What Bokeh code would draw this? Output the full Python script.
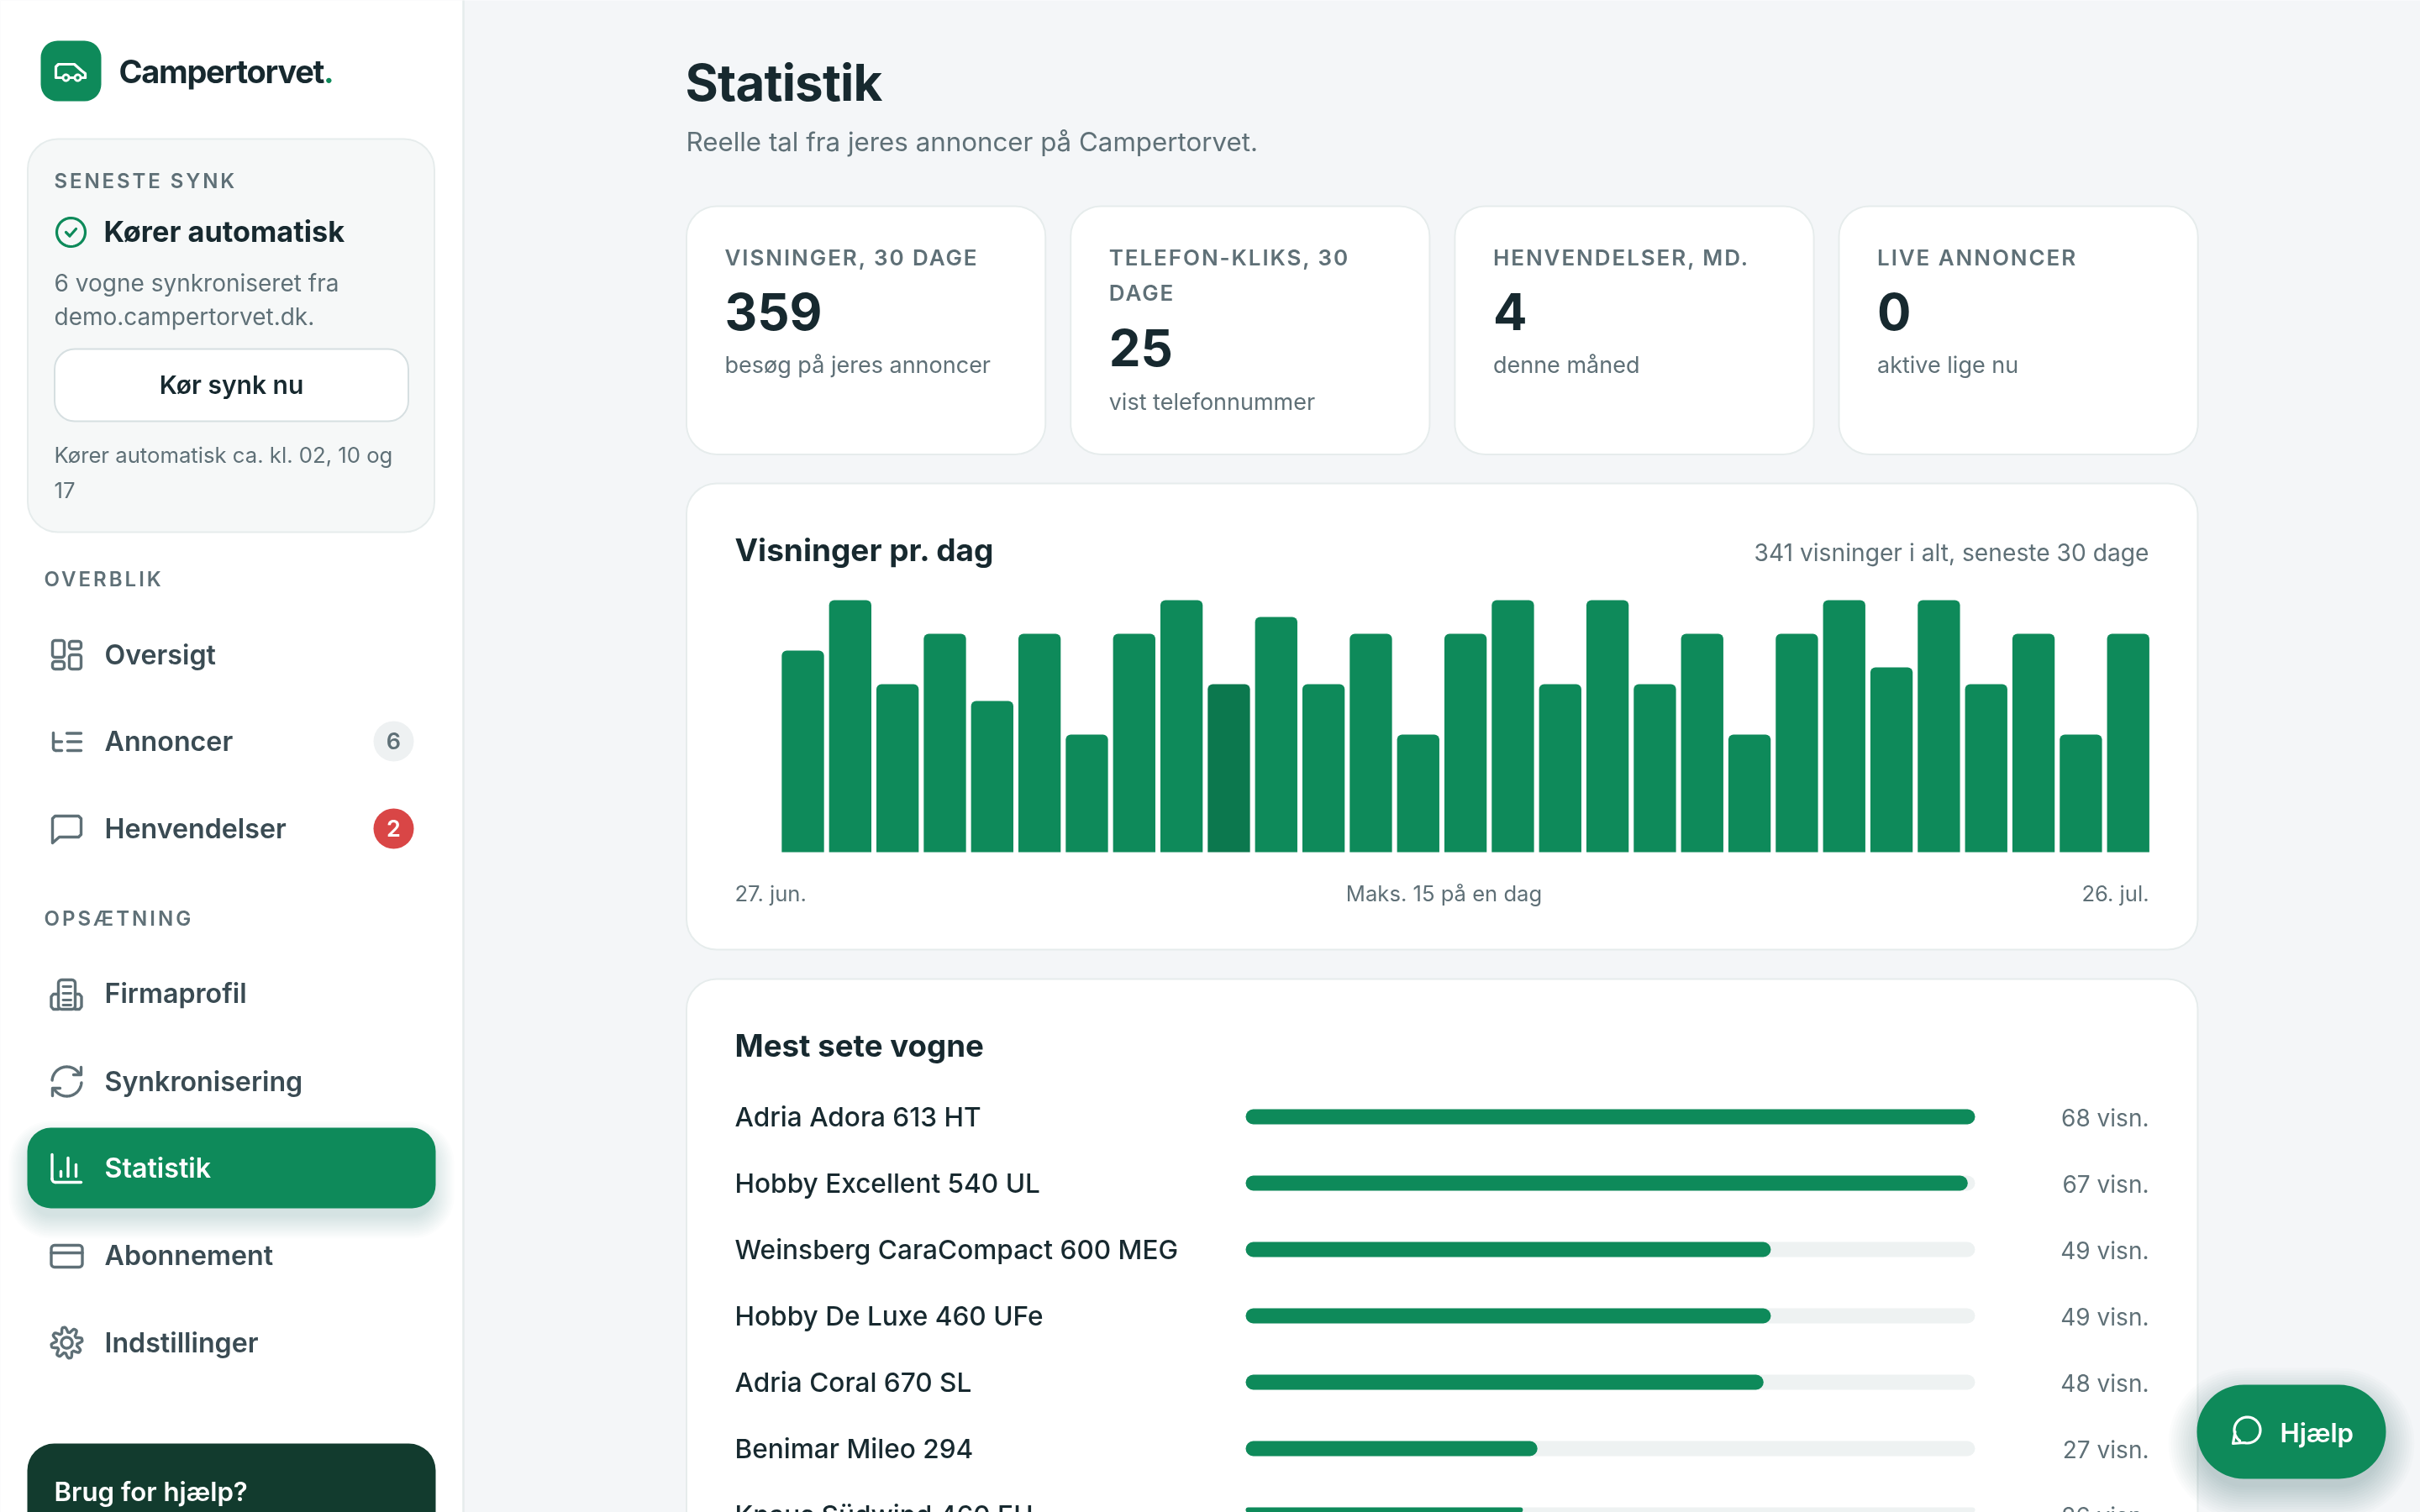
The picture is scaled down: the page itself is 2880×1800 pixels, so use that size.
import json
import numpy as np
from bokeh.plotting import figure, curdoc
from bokeh.models import Range1d, CustomJS
from bokeh.core.properties import value
from bokeh.embed import file_html
from bokeh.resources import INLINE

# ---------- data ----------
view_days = list(range(30))
view_counts = [0, 12, 15, 10, 13, 9, 13, 7, 13, 15, 10, 14, 10, 13, 7, 13, 15, 10, 15, 10, 13, 7, 13, 15, 11, 15, 10, 13, 7, 13]
highlight_day = 10
first_day_label = "27. jun."
last_day_label = "26. jul."
chart_title = "Visninger pr. dag"
chart_total = "341 visninger i alt, seneste 30 dage"
chart_max = "Maks. 15 på en dag"

car_names = ["Adria Adora 613 HT", "Hobby Excellent 540 UL", "Weinsberg CaraCompact 600 MEG",
             "Hobby De Luxe 460 UFe", "Adria Coral 670 SL", "Benimar Mileo 294", "Knaus Südwind 460 EU"]
car_views = [68, 67, 49, 49, 48, 27, 26]
car_percent = [100, 99, 72, 72, 71, 40, 38]

stat_labels = [["VISNINGER, 30 DAGE"], ["TELEFON-KLIKS, 30", "DAGE"], ["HENVENDELSER, MD."], ["LIVE ANNONCER"]]
stat_values = ["359", "25", "4", "0"]
stat_notes = ["besøg på jeres annoncer", "vist telefonnummer", "denne måned", "aktive lige nu"]

# ---------- palette ----------
GREEN = "#0e8a5a"
GREEN_D = "#0c784e"
INK = "#17292f"
MUTED = "#5f7077"
NAV = "#3a4b53"
LINE = "#e6ecec"
BG = "#f4f6f8"
TRACK = "#eef2f2"
REG, MED, SEMI = "Inter", "Inter Medium", "Inter SemiBold"

p = figure(width=2880, height=1800, x_range=Range1d(0, 2880), y_range=Range1d(1800, 0),
           x_axis_location=None, y_axis_location=None, toolbar_location=None,
           output_backend="svg", min_border=0, background_fill_color=BG,
           border_fill_color=BG, outline_line_color=None)
p.grid.visible = False
p.styles = {"position": "fixed", "left": "0", "top": "0"}

# data scales (pixel layout -> data units)
SLOT = 56.33
SLOT0 = 873.5 + 25.17
UNIT = 20.0
BASE = 1014.0
p.extra_x_ranges["day"] = Range1d(-SLOT0 / SLOT, (2880 - SLOT0) / SLOT)
p.extra_y_ranges["views"] = Range1d((BASE - 1800) / UNIT, BASE / UNIT)
CAR0 = 1482.0
CARU = 868.0 / 100
ROW0 = 1329.0
ROWH = 79.0
p.extra_x_ranges["carpct"] = Range1d(-CAR0 / CARU, (2880 - CAR0) / CARU)
p.extra_y_ranges["rank"] = Range1d((1800 - ROW0) / ROWH, -ROW0 / ROWH)


def box(l, t, r, b, rad, fill, line=None, lw=2, alpha=1.0):
    p.quad(left=[l], right=[r], top=[t], bottom=[b], border_radius=int(round(rad)), fill_color=fill,
           fill_alpha=alpha, line_color=line, line_width=lw)


def shadow(l, t, r, b, rad, dy, spread, alpha=0.016, color="#1a3f3f"):
    for e in np.linspace(spread, -4, 14):
        box(l - e, t + dy - e, r + e, b + dy + e, max(rad + e, 2), color, alpha=alpha)


def text(x, y, s, size, color=INK, font=REG, style="normal", align="left"):
    p.text(x=[x], y=[y], text=[s], text_font=value(font), text_font_size=value(f"{size}px"),
           text_font_style=style, text_color=color, text_align=align, text_baseline="middle")


def pl(xs, ys, color=MUTED, lw=3.4):
    p.line(list(xs), list(ys), line_color=color, line_width=lw, line_join="round", line_cap="round")


def arc(cx, cy, r, a0, a1, n=40):
    a = np.radians(np.linspace(a0, a1, n))
    return cx + r * np.cos(a), cy + r * np.sin(a)


def rr(l, t, r, b, rad, color=MUTED, lw=3.4):
    xs, ys = [], []
    for cx, cy, a0 in [(r - rad, t + rad, -90), (r - rad, b - rad, 0), (l + rad, b - rad, 90), (l + rad, t + rad, 180)]:
        ax, ay = arc(cx, cy, rad, a0, a0 + 90, 8)
        xs += list(ax)
        ys += list(ay)
    pl(xs + xs[:1], ys + ys[:1], color, lw)


# ---------- sidebar ----------
box(-5, -5, 551, 1805, 0, "#ffffff", line=LINE, lw=2.5)
box(48, 48, 120, 120, 20, GREEN)
pl([66, 66, 69, 88, 97, 101, 101], [91, 79, 76, 76, 84, 87, 92], "#ffffff", 3.2)
pl([66, 74], [92, 92], "#ffffff", 3.2)
pl([82, 88], [92, 92], "#ffffff", 3.2)
pl([96, 101], [92, 92], "#ffffff", 3.2)
for wx in (78, 92):
    xs, ys = arc(wx, 92, 3.6, 0, 360, 20)
    pl(xs, ys, "#ffffff", 2.8)
text(141, 84, "Campertorvet", 38.01, INK, font=REG, style="bold")
text(384.5, 84, ".", 38.02, GREEN, font=REG, style="bold")

box(32.5, 165, 516.5, 633, 36, "#f6f8f8", line=LINE, lw=2)
text(64, 215, "SENESTE SYNK", 24.01, MUTED, font=SEMI)
xs, ys = arc(84, 276, 17, 0, 360, 50)
pl(xs, ys, GREEN, 3.2)
pl([78, 82.5, 90], [276, 280.5, 272], GREEN, 3.2)
text(123, 275, "Kører automatisk", 34.3, INK, font=REG, style="bold")
text(64, 336, "6 vogne synkroniseret fra", 28, MUTED)
text(64, 376, "demo.campertorvet.dk.", 28, MUTED)
box(64.5, 415, 485.5, 501, 24, "#ffffff", line="#d6dfe1", lw=2)
text(275, 457, "Kør synk nu", 30, INK, font=SEMI, align="center")
text(64, 541, "Kører automatisk ca. kl. 02, 10 og", 25.7, MUTED)
text(64, 583, "17", 25.7, MUTED)

text(52, 689, "OVERBLIK", 24.02, MUTED, font=SEMI)
text(52, 1093, "OPSÆTNING", 24.02, MUTED, font=SEMI)

shadow(32, 1342, 518, 1438, 28, 14, 22, alpha=0.011)
box(32, 1342, 518, 1438, 28, GREEN)

nav = [("Oversigt", 778.5), ("Annoncer", 881.5), ("Henvendelser", 986), ("Firmaprofil", 1182),
       ("Synkronisering", 1286.5), ("Abonnement", 1493.5), ("Indstillinger", 1597.5)]
for label, y in nav:
    text(124, y, label, 32.2, NAV, font=SEMI)
text(124, 1390, "Statistik", 32.2, "#ffffff", font=SEMI)

# nav icons
rr(62, 762, 76, 782, 3)
rr(62, 787, 76, 796, 3)
rr(82, 763, 96, 772, 3)
rr(82, 779, 96, 796, 3)

pl([63, 63], [872, 890])
ax, ay = arc(66, 890, 3, 180, 90, 6)
pl(ax, ay)
pl([66, 73], [893, 893])
pl([63, 73], [882.5, 882.5])
pl([79, 96], [872.5, 872.5])
pl([80, 96], [882.5, 882.5])
pl([80, 96], [893, 893])

xs = [62, 62, 65, 93, 96, 96, 93, 70, 62]
ys = [1003, 974, 971, 971, 974, 993, 996, 996, 1003]
pl(xs, ys)

rr(69, 1166, 89, 1201, 4)
pl([69, 63, 60.5, 60.5, 63, 69], [1183, 1183, 1186, 1198, 1201, 1201])
pl([89, 94, 96.5, 96.5, 94, 89], [1183, 1183, 1186, 1198, 1201, 1201])
for yy in (1174, 1182, 1190):
    pl([74.5, 84], [yy, yy], MUTED, 2.8)
pl([74.5, 84], [1196, 1196], MUTED, 2.8)

xs, ys = arc(79, 1287, 17.5, -175, -28)
pl(xs, ys)
xs, ys = arc(79, 1287, 17.5, 5, 152)
pl(xs, ys)
pl([96, 96, 87], [1270, 1279, 1279])
pl([62, 62, 71], [1304, 1295, 1295])

pl([61.5, 61.5], [1374, 1403], "#ffffff")
xs, ys = arc(65.5, 1403, 4, 180, 90, 6)
pl(xs, ys, "#ffffff")
pl([65.5, 96], [1407, 1407], "#ffffff")
pl([72, 72], [1394, 1400], "#ffffff")
pl([80.5, 80.5], [1378, 1400], "#ffffff")
pl([90, 90], [1386, 1400], "#ffffff")

rr(60.5, 1482, 97.5, 1508, 4)
pl([60.5, 97.5], [1491, 1491])

a = np.radians(np.linspace(0, 360, 161))
rad = 15.5 + 3.0 * np.clip(1.4 * np.cos(8 * a + np.pi / 8 * 4), -1, 1)
pl(79 + rad * np.cos(a), 1598 + rad * np.sin(a))
xs, ys = arc(79, 1598, 6.5, 0, 360)
pl(xs, ys)

p.circle(x=[468], y=[882], radius=24, fill_color="#eef1f2", line_color=None)
text(468, 881.5, "6", 27, MUTED, font=SEMI, align="center")
p.circle(x=[468], y=[986], radius=24, fill_color="#d94646", line_color=None)
text(468, 985.5, "2", 27, "#ffffff", font=SEMI, align="center")

box(32, 1718, 518, 1850, 32, "#123b2e")
text(64, 1775, "Brug for hjælp?", 31.2, "#ffffff", font=SEMI)

# ---------- header ----------
text(815, 97, "Statistik", 60.01, INK, font=REG, style="bold")
text(816, 168, "Reelle tal fra jeres annoncer på Campertorvet.", 31.3, MUTED)

# ---------- stat cards ----------
card_lefts = [816.5, 1273.7, 1730.9, 2188]
for left, labels, val, note in zip(card_lefts, stat_labels, stat_values, stat_notes):
    box(left, 245, left + 427.2, 540.5, 36, "#ffffff", line=LINE, lw=2)
    tx = left + 45.5
    for k, lab in enumerate(labels):
        text(tx, 306 + 41.5 * k, lab, 26.01, MUTED, font=SEMI)
    off = 41.5 * (len(labels) - 1) + (2 if len(labels) > 1 else 0)
    text(tx, 370 + off, val, 60, INK, font=REG, style="bold")
    text(tx, 434 + off, note, 27, MUTED)

# ---------- daily views chart ----------
box(816.5, 575, 2615, 1130, 36, "#ffffff", line=LINE, lw=2)
text(874, 653.5, chart_title, 37, INK, font=REG, style="bold")
text(2557, 657, chart_total, 28.2, MUTED, align="right")
colors = [GREEN_D if d == highlight_day else GREEN for d in view_days]
p.vbar(x=view_days, top=view_counts, bottom=0, width=50.33 / SLOT, color=colors, line_color=None,
       border_radius=(6, 6, 0, 0), x_range_name="day", y_range_name="views")
text(874, 1062.5, first_day_label, 25.6, MUTED)
text(1718, 1062.5, chart_max, 25.6, MUTED, align="center")
text(2557, 1062.5, last_day_label, 25.6, MUTED, align="right")

# ---------- top cars ----------
box(816.5, 1165, 2615, 1900, 36, "#ffffff", line=LINE, lw=2)
text(874, 1244, "Mest sete vogne", 36.7, INK, font=REG, style="bold")
ranks = list(range(len(car_names)))
p.hbar(y=ranks, right=[100] * len(ranks), left=0, height=18 / ROWH, color=TRACK, line_color=None,
       border_radius=9, x_range_name="carpct", y_range_name="rank")
p.hbar(y=ranks, right=car_percent, left=0, height=18 / ROWH, color=GREEN, line_color=None,
       border_radius=9, x_range_name="carpct", y_range_name="rank")
for i, (name, v) in enumerate(zip(car_names, car_views)):
    y = ROW0 + ROWH * i
    text(874, y - 0.5, name, 31.6, INK, font=MED)
    text(2557, y + 1, f"{v} visn.", 28, MUTED, align="right")

# ---------- help button ----------
shadow(2614, 1648, 2839, 1760, 56, 14, 34, alpha=0.014)
box(2614, 1648, 2839, 1760, 56, GREEN)
xs, ys = arc(2674, 1702, 15.5, 125, 465)
pl(list(xs) + [2657, 2659.5], list(ys) + [1718, 1704], "#ffffff", 3.2)
text(2713, 1705, "Hjælp", 31.2, "#ffffff", font=SEMI)

# ---------- letter spacing (by font size marker) ----------
spacing = {"24.01px": "2.9px", "24.02px": "3.0px", "26.01px": "1.93px",
           "38.01px": "-1.3px", "60.01px": "-0.8px"}
code = """
const ls = %s;
function walk(root) {
  root.querySelectorAll('*').forEach(el => {
    if (el.tagName && el.tagName.toLowerCase() === 'text') {
      const f = el.getAttribute('font-size');
      if (f && ls[f]) el.style.letterSpacing = ls[f];
    }
    if (el.shadowRoot) walk(el.shadowRoot);
  });
}
let n = 0;
const h = setInterval(() => { walk(document); if (++n > 30) clearInterval(h); }, 100);
""" % json.dumps(spacing)
curdoc().add_root(p)
curdoc().js_on_event("document_ready", CustomJS(code=code))

open("out.html", "w").write(file_html(p, INLINE))
